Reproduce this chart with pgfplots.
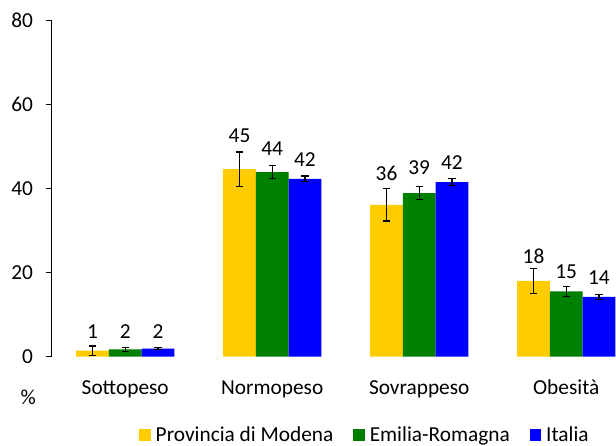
\documentclass[border=0pt]{standalone}
\usepackage{fontspec}
\setmainfont{Carlito}
\usepackage{pgfplots}
\pgfplotsset{compat=1.18}
\usepackage{pgfplotstable}
\definecolor{cY}{HTML}{FFCC00}
\definecolor{cG}{HTML}{008000}
\definecolor{cB}{HTML}{0000FF}
\newcommand\fs{\fontsize{16}{19.2}\selectfont}

% x = bar position (category index + offset), y = value, err = half error,
% ly = label height, lab = label
\pgfplotstableread{
x y err ly lab
-0.2224 1.4 1.1 5.95 1
0.7776 44.6 4.1 52.6 45
1.7776 36.1 3.85 43.6 36
2.7776 18.0 3.0 23.9 18
}\modena
\pgfplotstableread{
x y err ly lab
0 1.7 0.5 5.95 2
1 43.9 1.6 49.5 44
2 38.9 1.6 44.9 39
3 15.5 1.25 20.2 15
}\emilia
\pgfplotstableread{
x y err ly lab
0.2224 1.9 0.3 5.95 2
1.2224 42.3 0.7 46.8 42
2.2224 41.5 0.8 46.1 42
3.2224 14.2 0.55 18.7 14
}\italia

\begin{document}
\begin{tikzpicture}
\begin{axis}[
  scale only axis, width=441pt, height=252pt,
  xmin=-0.5, xmax=3.5, ymin=0, ymax=80,
  enlargelimits=false, clip=false,
  axis lines=left,
  axis line style={-, line width=0.75pt, black},
  x axis line style={draw=none},
  xtick={0,1,2,3},
  xticklabels={Sottopeso,Normopeso,Sovrappeso,Obesità},
  xtick style={draw=none},
  ytick={0,20,40,60,80},
  tick align=outside, major tick length=4.5pt,
  ytick style={line width=0.75pt, black},
  tick label style={font=\fs},
  /pgf/number format/assume math mode=true,
  xticklabel style={anchor=base, inner sep=0pt, yshift=-23.6pt},
  yticklabel style={anchor=east, inner sep=0pt, xshift=-9.4pt},
  ylabel={\%},
  ylabel style={rotate=-90, at={(axis description cs:-0.0398,-0.1206)}, anchor=center, font=\fs},
  legend image code/.code={\fill[#1] (0pt,-4.275pt) rectangle (8.55pt,4.275pt);},
  legend style={at={(axis description cs:0.149,-0.233)}, anchor=west,
    draw=none, fill=none, inner sep=0pt, outer sep=0pt, font=\fs,
    nodes={inner sep=0pt},
    /tikz/every odd column/.append style={column sep=3.75pt},
    /tikz/every even column/.append style={column sep=15pt}},
  legend columns=3,
  every node near coord/.append style={font=\fs, anchor=center, inner sep=0pt, black},
]
\addplot[ybar, bar width=24.5pt, bar shift=0pt, fill=cY, draw=none,
  error bars/.cd, y dir=both, y explicit,
  error bar style={line width=0.9pt, black},
  error mark options={rotate=90, mark size=2.75pt, line width=0.9pt, black}]
  table[x=x, y=y, y error=err]{\modena};
\addlegendentry{Provincia di Modena}
\addplot[ybar, bar width=24.5pt, bar shift=0pt, fill=cG, draw=none,
  error bars/.cd, y dir=both, y explicit,
  error bar style={line width=0.9pt, black},
  error mark options={rotate=90, mark size=2.75pt, line width=0.9pt, black}]
  table[x=x, y=y, y error=err]{\emilia};
\addlegendentry{Emilia-Romagna}
\addplot[ybar, bar width=24.5pt, bar shift=0pt, fill=cB, draw=none,
  error bars/.cd, y dir=both, y explicit,
  error bar style={line width=0.9pt, black},
  error mark options={rotate=90, mark size=2.75pt, line width=0.9pt, black}]
  table[x=x, y=y, y error=err]{\italia};
\addlegendentry{Italia}

\addplot[forget plot, draw=none, mark=none, nodes near coords, point meta=explicit symbolic]
  table[x=x, y=ly, meta=lab]{\modena};
\addplot[forget plot, draw=none, mark=none, nodes near coords, point meta=explicit symbolic]
  table[x=x, y=ly, meta=lab]{\emilia};
\addplot[forget plot, draw=none, mark=none, nodes near coords, point meta=explicit symbolic]
  table[x=x, y=ly, meta=lab]{\italia};
\end{axis}
\pgfresetboundingbox
\useasboundingbox (-38.8pt,-66.4pt) rectangle (423.2pt,267.4pt);
\end{tikzpicture}
\end{document}
